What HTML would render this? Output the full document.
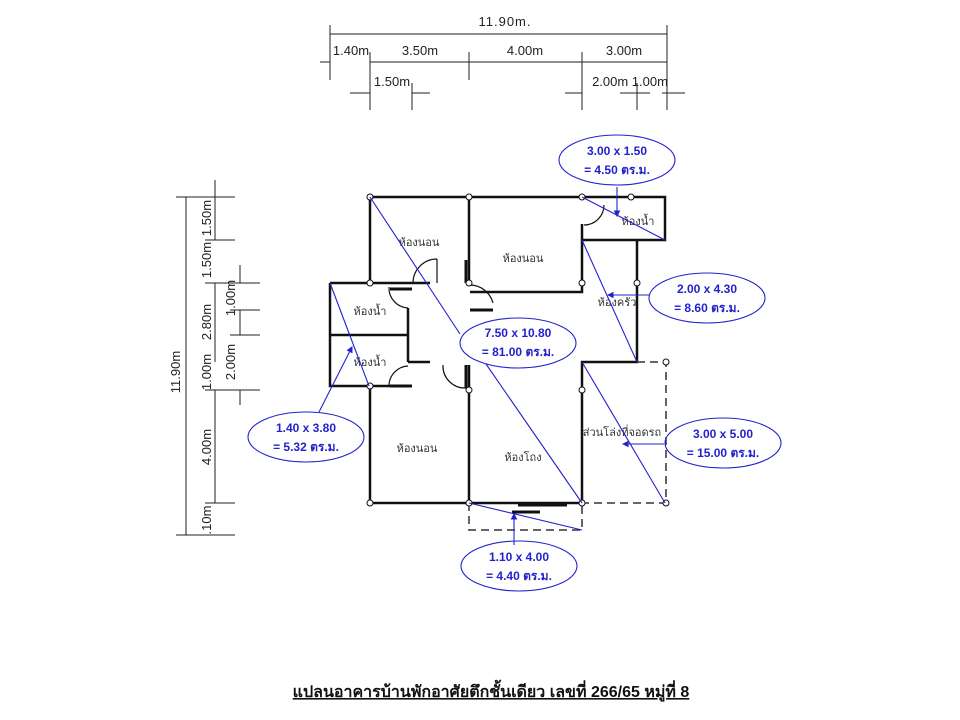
<!DOCTYPE html>
<html><head><meta charset="utf-8"><style>
html,body{margin:0;padding:0;background:#fff;width:960px;height:720px;overflow:hidden}
svg{display:block}
.d{font-family:"Liberation Sans",sans-serif;font-size:13px;fill:#222}
.t{font-family:"Liberation Sans","Noto Sans CJK SC",sans-serif;font-size:11px;fill:#333}
.b{font-family:"Liberation Sans","Noto Sans CJK SC",sans-serif;font-size:12px;font-weight:bold;fill:#2222cc}
</style></head><body>
<svg width="960" height="720" viewBox="0 0 960 720">
<defs><marker id="a" markerWidth="6" markerHeight="6" refX="5" refY="3" orient="auto"><path d="M0,0 L6,3 L0,6z" fill="#2222cc"/></marker></defs>
<g stroke="#222" stroke-width="1" fill="none">
<line x1="330" y1="34" x2="667" y2="34"/>
<line x1="320" y1="62" x2="330" y2="62"/><line x1="370" y1="62" x2="667" y2="62"/>
<line x1="330" y1="25" x2="330" y2="80"/><line x1="370" y1="52" x2="370" y2="110"/>
<line x1="469" y1="52" x2="469" y2="80"/><line x1="582" y1="52" x2="582" y2="110"/>
<line x1="667" y1="25" x2="667" y2="110"/>
<line x1="350" y1="93" x2="370" y2="93"/><line x1="412" y1="93" x2="430" y2="93"/>
<line x1="412" y1="83" x2="412" y2="110"/>
<line x1="565" y1="93" x2="582" y2="93"/><line x1="620" y1="93" x2="650" y2="93"/>
<line x1="637" y1="83" x2="637" y2="110"/><line x1="662" y1="93" x2="685" y2="93"/>
<line x1="186" y1="197" x2="186" y2="535"/>
<line x1="176" y1="197" x2="235" y2="197"/><line x1="176" y1="535" x2="235" y2="535"/>
<line x1="215" y1="180" x2="215" y2="240"/><line x1="215" y1="283" x2="215" y2="362"/><line x1="215" y1="390" x2="215" y2="503"/>
<line x1="205" y1="240" x2="235" y2="240"/><line x1="205" y1="283" x2="260" y2="283"/>
<line x1="205" y1="390" x2="260" y2="390"/><line x1="205" y1="503" x2="235" y2="503"/>
<line x1="240" y1="265" x2="240" y2="283"/><line x1="240" y1="310" x2="240" y2="335"/><line x1="240" y1="390" x2="240" y2="405"/>
<line x1="230" y1="310" x2="260" y2="310"/><line x1="230" y1="335" x2="260" y2="335"/>
</g>
<text class="d" x="505" y="26" text-anchor="middle" style="letter-spacing:1px">11.90m.</text>
<text class="d" x="351" y="55" text-anchor="middle">1.40m</text>
<text class="d" x="420" y="55" text-anchor="middle">3.50m</text>
<text class="d" x="525" y="55" text-anchor="middle">4.00m</text>
<text class="d" x="624" y="55" text-anchor="middle">3.00m</text>
<text class="d" x="392" y="86" text-anchor="middle">1.50m</text>
<text class="d" x="630" y="86" text-anchor="middle">2.00m 1.00m</text>
<text class="d" transform="translate(180,372) rotate(-90)" text-anchor="middle">11.90m</text>
<g class="d" text-anchor="middle">
<text transform="translate(211,218) rotate(-90)">1.50m</text>
<text transform="translate(211,260) rotate(-90)">1.50m</text>
<text transform="translate(211,322) rotate(-90)">2.80m</text>
<text transform="translate(211,372) rotate(-90)">1.00m</text>
<text transform="translate(211,447) rotate(-90)">4.00m</text>
<text transform="translate(211,520) rotate(-90)">.10m</text>
<text transform="translate(235,298) rotate(-90)">1.00m</text>
<text transform="translate(235,362) rotate(-90)">2.00m</text>
</g>
<g stroke="#111" stroke-width="2.5" fill="none">
<polyline points="370,283 370,197 665,197 665,240 582,240"/>
<line x1="469" y1="197" x2="469" y2="283"/>
<polyline points="582,224 582,292 470,292"/>
<polyline points="637,240 637,362 582,362 582,503 370,503 370,386"/>
<polyline points="330,283 430,283"/><polyline points="330,283 330,386 410,386"/>
<line x1="330" y1="335" x2="408" y2="335"/>
<line x1="408" y1="308" x2="408" y2="362"/>
<line x1="408" y1="362" x2="430" y2="362"/>
<line x1="469" y1="365" x2="469" y2="503"/>
</g>
<g stroke="#111" stroke-width="1.2" fill="none">
<path d="M437,259 A24,24 0 0 0 413,283"/><line x1="437" y1="259" x2="437" y2="283"/>
<path d="M470,285 A24,24 0 0 1 493,303"/>
<path d="M389,287 A20,20 0 0 0 408,308"/>
<path d="M389,386 A20,20 0 0 1 408,366"/>
<path d="M443,365 A22,22 0 0 0 466,388"/>
<path d="M604,205 A20,20 0 0 1 584,225"/>
</g>
<g stroke="#111" stroke-width="3"><line x1="466" y1="260" x2="466" y2="283"/><line x1="466" y1="365" x2="466" y2="388"/>
<line x1="470" y1="310" x2="493" y2="310"/><line x1="390" y1="289" x2="412" y2="289"/><line x1="390" y1="386" x2="412" y2="386"/>
<line x1="518" y1="505" x2="567" y2="505"/><line x1="512" y1="512" x2="540" y2="512"/></g>
<g stroke="#333" stroke-width="1.5" fill="none" stroke-dasharray="8,5">
<polyline points="637,362 666,362 666,503 582,503"/>
<polyline points="469,503 469,530 582,530 582,503"/>
</g>
<g fill="#fff" stroke="#111" stroke-width="1">
<circle cx="370" cy="197" r="3"/><circle cx="469" cy="197" r="3"/><circle cx="582" cy="197" r="3"/><circle cx="631" cy="197" r="3"/>
<circle cx="370" cy="283" r="3"/><circle cx="469" cy="283" r="3"/><circle cx="582" cy="283" r="3"/><circle cx="637" cy="283" r="3"/>
<circle cx="370" cy="386" r="3"/><circle cx="469" cy="390" r="3"/><circle cx="582" cy="390" r="3"/>
<circle cx="370" cy="503" r="3"/><circle cx="469" cy="503" r="3"/><circle cx="582" cy="503" r="3"/>
<circle cx="666" cy="362" r="3"/><circle cx="666" cy="503" r="3"/>
</g>
<g class="t" text-anchor="middle">
<text x="419" y="246">ห้องนอน</text><text x="523" y="262">ห้องนอน</text>
<text x="370" y="315">ห้องน้ำ</text><text x="370" y="366">ห้องน้ำ</text>
<text x="417" y="452">ห้องนอน</text><text x="523" y="461">ห้องโถง</text>
<text x="617" y="306">ห้องครัว</text><text x="622" y="436">ส่วนโล่งที่จอดรถ</text><text x="638" y="225">ห้องน้ำ</text>
</g>
<g stroke="#2222cc" stroke-width="1.1" fill="none">
<line x1="370" y1="197" x2="460" y2="334"/><line x1="486" y1="364" x2="582" y2="503"/>
<line x1="582" y1="197" x2="665" y2="240"/><line x1="582" y1="240" x2="637" y2="362"/>
<line x1="582" y1="362" x2="665" y2="503"/><line x1="330" y1="283" x2="369" y2="386"/>
<line x1="469" y1="503" x2="582" y2="530"/>
<line x1="617" y1="187" x2="617" y2="216" marker-end="url(#a)"/>
<line x1="649" y1="295" x2="608" y2="295" marker-end="url(#a)"/>
<line x1="664" y1="444" x2="623" y2="444" marker-end="url(#a)"/>
<line x1="319" y1="412" x2="352" y2="347" marker-end="url(#a)"/>
<line x1="514" y1="545" x2="514" y2="514" marker-end="url(#a)"/>
<ellipse cx="617" cy="160" rx="58" ry="25"/><ellipse cx="707" cy="298" rx="58" ry="25"/>
<ellipse cx="518" cy="343" rx="58" ry="25"/><ellipse cx="306" cy="437" rx="58" ry="25"/>
<ellipse cx="723" cy="443" rx="58" ry="25"/><ellipse cx="519" cy="566" rx="58" ry="25"/>
</g>
<g class="b" text-anchor="middle">
<text x="617" y="155">3.00 x 1.50</text><text x="617" y="174">= 4.50 ตร.ม.</text>
<text x="707" y="293">2.00 x 4.30</text><text x="707" y="312">= 8.60 ตร.ม.</text>
<text x="518" y="337">7.50 x 10.80</text><text x="518" y="356">= 81.00 ตร.ม.</text>
<text x="306" y="432">1.40 x 3.80</text><text x="306" y="451">= 5.32 ตร.ม.</text>
<text x="723" y="438">3.00 x 5.00</text><text x="723" y="457">= 15.00 ตร.ม.</text>
<text x="519" y="561">1.10 x 4.00</text><text x="519" y="580">= 4.40 ตร.ม.</text>
</g>
<text x="491" y="697" text-anchor="middle" style="font-family:'Liberation Sans','Noto Sans CJK SC',sans-serif;font-size:16px;font-weight:bold;fill:#111;text-decoration:underline">แปลนอาคารบ้านพักอาศัยตึกชั้นเดียว เลขที่ 266/65 หมู่ที่ 8</text>
</svg>
</body></html>
